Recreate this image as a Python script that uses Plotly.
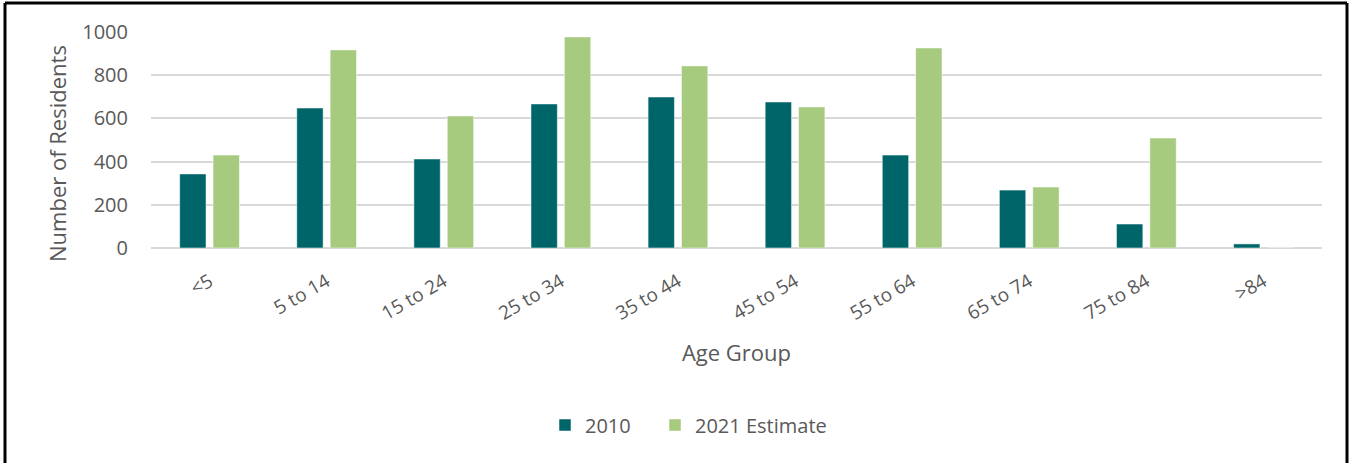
import plotly.graph_objects as go

categories = ["<5", "5 to 14", "15 to 24", "25 to 34", "35 to 44",
              "45 to 54", "55 to 64", "65 to 74", "75 to 84", ">84"]
values_2010 = [343, 648, 412, 667, 699, 676, 430, 268, 111, 19]
values_2021 = [430, 917, 611, 977, 843, 653, 926, 282, 509, 0]
y_ticks = [0, 200, 400, 600, 800, 1000]

W, H = 1352, 463
ML, MR, MT, MB = 151, 30, 32, 215
PW, PH = W - ML - MR, H - MT - MB

def px_x(p):
    return (p - ML) / PW

def px_y(p):
    return (H - MB - p) / PH

FONT = "Open Sans"
GRAY = "#595959"

fig = go.Figure()
fig.add_trace(go.Bar(name="2010", x=categories, y=values_2010, legend="legend",
                     marker=dict(color="#006569", line=dict(color="rgba(255,255,255,0.5)", width=1))))
fig.add_trace(go.Bar(name="2021 Estimate", x=categories, y=values_2021, legend="legend2",
                     marker=dict(color="#A6CA7E", line=dict(color="rgba(255,255,255,0.5)", width=1))))

border = dict(color="black", width=3)
shapes = [
    dict(type="line", xref="paper", yref="paper", x0=px_x(5), x1=px_x(5), y0=px_y(3), y1=px_y(470), line=border),
    dict(type="line", xref="paper", yref="paper", x0=px_x(5), x1=px_x(1347), y0=px_y(3), y1=px_y(3), line=border),
    dict(type="line", xref="paper", yref="paper", x0=px_x(1347), x1=px_x(1347), y0=px_y(3), y1=px_y(470), line=border),
]

annotations = [
    dict(text="Number of Residents", textangle=-90, xref="paper", yref="paper",
         x=px_x(57), y=px_y(154), xanchor="center", yanchor="middle", showarrow=False,
         font=dict(size=22, color=GRAY, family=FONT)),
]

legend_common = dict(orientation="h", xanchor="left", xref="paper", yanchor="middle",
                     y=px_y(425), font=dict(size=20, color=GRAY), itemwidth=30)

fig.update_layout(
    width=W, height=H,
    margin=dict(l=ML, r=MR, t=MT, b=MB),
    paper_bgcolor="white", plot_bgcolor="white",
    barmode="group", bargap=0.43, bargroupgap=0.21,
    font=dict(family=FONT, color=GRAY, size=19),
    showlegend=True,
    legend=dict(x=px_x(545), **legend_common),
    legend2=dict(x=px_x(655), **legend_common),
    shapes=shapes,
    annotations=annotations,
    xaxis=dict(tickangle=-30, tickfont=dict(size=19, color=GRAY), showgrid=False,
               showline=False, ticks="", ticklabelstandoff=18,
               title=dict(text="Age Group", font=dict(size=22, color=GRAY), standoff=20)),
    yaxis=dict(range=[0, 1000], tickvals=y_ticks, tickfont=dict(size=20, color=GRAY),
               gridcolor="#d9d9d9", gridwidth=1.5, zeroline=True, zerolinecolor="#d9d9d9",
               zerolinewidth=1.5, showline=False, ticks="", ticklabelstandoff=22),
)

fig.write_html("out.html")
